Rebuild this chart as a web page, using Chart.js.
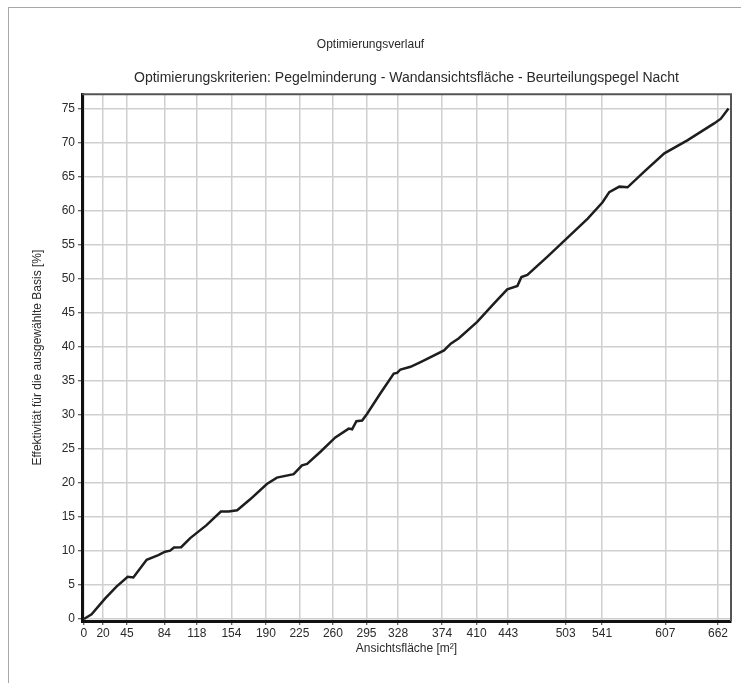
<!DOCTYPE html>
<html>
<head>
<meta charset="utf-8">
<script src="https://cdn.jsdelivr.net/npm/chart.js@4.4.1/dist/chart.umd.min.js"></script>
<style>
  html, body { margin: 0; padding: 0; background: #fff; overflow: hidden; }
  #wrap { position: relative; width: 741px; height: 683px; }
  #frame { position: absolute; left: 8px; top: 7px; width: 800px; height: 800px; border: 1px solid #a8a8a8; pointer-events: none; }
  canvas { position: absolute; left: 0; top: 0; }
</style>
</head>
<body>
<div id="wrap">
  <canvas id="lineChart" width="741" height="683"></canvas>
  <div id="frame"></div>
</div>
<script>
// Fläche [m²] vs. Effektivität [%]
const areaValues = [0, 8, 22, 34, 45.7, 51.6, 65.5, 77.7, 84.7, 90, 94, 101.5, 111, 128, 143, 151, 160, 173.6,
    191, 201.5, 219, 227.7, 233, 247, 262.5, 276.5, 280, 284.5, 290.5, 295.7, 309.6, 323.5, 327, 330.5, 341,
    351.5, 376, 383, 391.5, 410.6, 428, 442, 452.6, 456.8, 463, 484, 505, 526, 541.5, 548.5, 559, 567.6,
    585, 606, 630, 658, 665, 673];
const effectValues = [0, 0.7, 3.0, 4.75, 6.2, 6.1, 8.7, 9.4, 9.9, 10.05, 10.5, 10.55, 11.9, 13.8, 15.8, 15.8, 16.0, 17.6,
    19.85, 20.8, 21.3, 22.6, 22.8, 24.6, 26.7, 28.0, 27.9, 29.1, 29.2, 30.2, 33.2, 36.1, 36.2, 36.7, 37.1,
    37.8, 39.5, 40.5, 41.3, 43.7, 46.4, 48.5, 49.0, 50.3, 50.6, 53.3, 56.1, 58.9, 61.3, 62.8, 63.6, 63.5,
    65.8, 68.5, 70.4, 72.9, 73.6, 75.1];

const xTickValues = [0, 20, 45, 84, 118, 154, 190, 225, 260, 295, 328, 374, 410, 443, 503, 541, 607, 662];
const yTickValues = [0, 5, 10, 15, 20, 25, 30, 35, 40, 45, 50, 55, 60, 65, 70, 75];

const fontFamily = '"Liberation Sans", Arial, sans-serif';
const textColor  = '#2a2a2a';
const gridColor  = '#cfcfcf';

// top/right border of the plot area
const plotFrame = {
    id: 'plotFrame',
    afterDatasetsDraw(chart) {
        const { ctx, chartArea: a } = chart;
        ctx.save();
        ctx.strokeStyle = '#555';
        ctx.lineWidth = 2;
        ctx.beginPath();
        ctx.moveTo(a.left, a.top);
        ctx.lineTo(a.right, a.top);
        ctx.lineTo(a.right, a.bottom);
        ctx.stroke();
        ctx.restore();
    }
};

new Chart(document.getElementById('lineChart').getContext('2d'), {
    type: 'line',
    data: {
        datasets: [{
            data: areaValues.map((x, i) => ({ x, y: effectValues[i] })),
            borderColor: '#1e1e1e',
            borderWidth: 2.5,
            pointRadius: 0,
            tension: 0,
            fill: false,
        }],
    },
    options: {
        responsive: false,
        animation: false,
        layout: { padding: { left: 10, right: 10, top: 0, bottom: 22 } },
        plugins: {
            legend: { display: false },
            tooltip: { enabled: false },
            title: {
                display: true,
                text: 'Optimierungsverlauf',
                color: textColor,
                font: { family: fontFamily, size: 12, weight: 'normal' },
                padding: { top: 37, bottom: 10 },
            },
            subtitle: {
                display: true,
                fullSize: false,
                text: 'Optimierungskriterien: Pegelminderung - Wandansichtsfläche - Beurteilungspegel Nacht',
                color: textColor,
                font: { family: fontFamily, size: 14, weight: 'normal' },
                padding: { top: 8, bottom: 8 },
            },
        },
        scales: {
            x: {
                type: 'linear',
                min: -2,
                max: 675.6,
                afterBuildTicks: axis => { axis.ticks = xTickValues.map(v => ({ value: v })); },
                afterFit: axis => { axis.height = 40; },
                ticks: { color: textColor, font: { family: fontFamily, size: 12 }, padding: 1, maxRotation: 0, autoSkip: false },
                grid: { color: gridColor, lineWidth: 1.5, tickColor: '#333', tickLength: 4, tickWidth: 1 },
                border: { color: '#111', width: 3 },
                title: {
                    display: true,
                    text: 'Ansichtsfläche [m²]',
                    color: textColor,
                    font: { family: fontFamily, size: 12 },
                    padding: { top: 0, bottom: 5 },
                },
            },
            y: {
                type: 'linear',
                min: -0.3,
                max: 77.2,
                afterBuildTicks: axis => { axis.ticks = yTickValues.map(v => ({ value: v })); },
                afterFit: axis => { axis.width = 72; },
                ticks: { color: textColor, font: { family: fontFamily, size: 12 }, padding: 3 },
                grid: { color: gridColor, lineWidth: 1.5, tickColor: '#333', tickLength: 4, tickWidth: 1 },
                border: { color: '#111', width: 3 },
                title: {
                    display: true,
                    text: 'Effektivität für die ausgewählte Basis [%]',
                    color: textColor,
                    font: { family: fontFamily, size: 12 },
                    padding: { top: 20, bottom: 0 },
                },
            },
        },
    },
    plugins: [plotFrame],
});
</script>
</body>
</html>
